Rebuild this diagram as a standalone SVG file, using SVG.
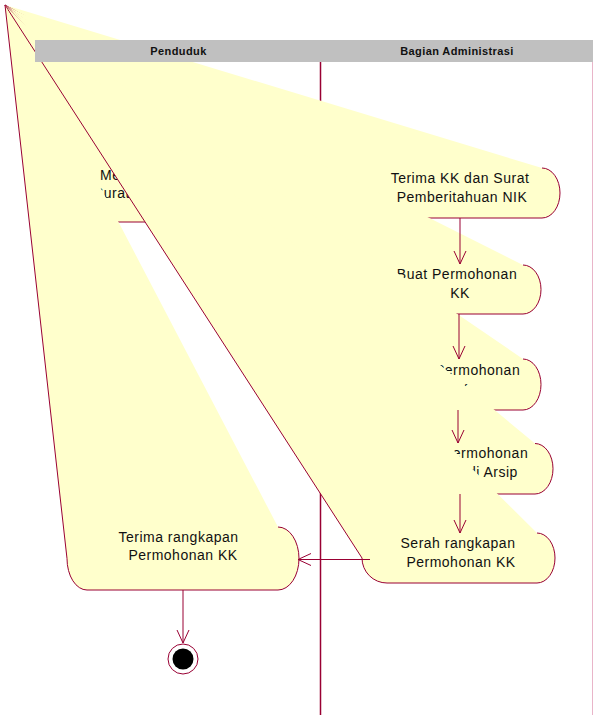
<svg xmlns="http://www.w3.org/2000/svg" width="593" height="715" viewBox="0 0 593 715">
  <style>
    .lane { stroke: #990033; stroke-width: 1.5; fill: none; }
    .border { stroke: #e9b5c9; stroke-width: 1; fill: none; }
    .body { fill: #ffffcc; stroke: none; }
    .edge { fill: none; stroke: #990033; stroke-width: 1; }
    .label { font-family: "Liberation Sans", Arial, sans-serif; font-size: 14px; fill: #111; letter-spacing: 0.5px; }
    .head { font-family: "Liberation Sans", Arial, sans-serif; font-size: 11px; font-weight: bold; fill: #111; letter-spacing: 0.4px; text-anchor: middle; }
    .flow { fill: none; stroke: #990033; stroke-width: 1; }
  </style>
  <defs>
    <marker id="open" viewBox="0 0 14 14" refX="13" refY="7" markerWidth="14" markerHeight="14" markerUnits="userSpaceOnUse" orient="auto">
      <path d="M0,1 L13,7 L0,13" fill="none" stroke="#990033" stroke-width="1"/>
    </marker>
  </defs>

  <!-- swimlane lines (drawn under the activities) -->
  <g id="lanes">
    <line class="lane" x1="320.5" y1="62" x2="320.5" y2="715"/>
    <line class="border" x1="592.5" y1="62" x2="592.5" y2="715"/>
  </g>

  <!-- Penduduk: first activity -->
  <g id="act-penduduk-1">
    <path class="body" d="M5,5 L278,163 A20,29.5 0 0 1 278,222 L87,222 A20,29.5 0 0 1 67,192.5 Z"/>
    <path class="edge" d="M278,163 A20,29.5 0 0 1 278,222 L87,222 A20,29.5 0 0 1 67,192.5 L5,5"/>
    <text class="label" x="100" y="180">Menyerahkan</text>
    <text class="label" x="94" y="198">Surat</text>
  </g>

  <!-- Bagian Administrasi activities -->
  <g id="act-terima-kk">
    <path class="body" d="M5,5 L542,168 A18,25 0 0 1 542,218 L361,218 A20,25 0 0 1 341,193 Z"/>
    <path class="edge" d="M542,168 A18,25 0 0 1 542,218 L361,218 A20,25 0 0 1 341,193 L5,5"/>
    <text class="label" x="460" y="183" text-anchor="middle">Terima KK dan Surat</text>
    <text class="label" x="462" y="202" text-anchor="middle">Pemberitahuan NIK</text>
  </g>

  <g id="act-buat-permohonan">
    <path class="body" d="M5,5 L523,265 A18,24.5 0 0 1 523,314 L404,314 A20,24.5 0 0 1 384,289.5 Z"/>
    <path class="edge" d="M523,265 A18,24.5 0 0 1 523,314 L404,314 A20,24.5 0 0 1 384,289.5 L5,5"/>
    <text class="label" x="457" y="279" text-anchor="middle">Buat Permohonan</text>
    <text class="label" x="460" y="298" text-anchor="middle">KK</text>
  </g>

  <g id="act-permohonan-kk">
    <path class="body" d="M5,5 L523,359 A18,25.5 0 0 1 523,410 L447,410 A20,25.5 0 0 1 427,384.5 Z"/>
    <path class="edge" d="M523,359 A18,25.5 0 0 1 523,410 L447,410 A20,25.5 0 0 1 427,384.5 L5,5"/>
    <text class="label" x="435" y="374.5">Permohonan</text>
    <text class="label" x="449" y="393.5">KK</text>
  </g>

  <g id="act-arsip">
    <path class="body" d="M5,5 L535,443.5 A18,25.25 0 0 1 535,494 L467,494 A20,25.25 0 0 1 447,468.75 Z"/>
    <path class="edge" d="M535,443.5 A18,25.25 0 0 1 535,494 L467,494 A20,25.25 0 0 1 447,468.75 L5,5"/>
    <text class="label" x="443" y="458">Permohonan</text>
    <text class="label" x="468" y="477">di Arsip</text>
  </g>

  <g id="act-serah">
    <path class="body" d="M5,5 L537,533 A18,25 0 0 1 537,583 L387,583 A25,25 0 0 1 362,558 Z"/>
    <path class="edge" d="M537,533 A18,25 0 0 1 537,583 L387,583 A25,25 0 0 1 362,558 L5,5"/>
    <text class="label" x="458" y="548" text-anchor="middle">Serah rangkapan</text>
    <text class="label" x="461" y="567" text-anchor="middle">Permohonan KK</text>
  </g>

  <!-- Penduduk: receives the copy -->
  <g id="act-terima-rangkapan">
    <path class="body" d="M5,5 L278,527 A21,31.5 0 0 1 278,590 L87,590 A20,31.5 0 0 1 67,558.5 Z"/>
    <path class="edge" d="M278,527 A21,31.5 0 0 1 278,590 L87,590 A20,31.5 0 0 1 67,558.5 L5,5"/>
    <text class="label" x="178.5" y="542" text-anchor="middle">Terima rangkapan</text>
    <text class="label" x="183" y="560" text-anchor="middle">Permohonan KK</text>
  </g>

  <!-- swimlane header -->
  <g id="header">
    <rect x="35" y="40" width="558" height="22" fill="#c0c0c0"/>
    <text class="head" x="178.5" y="55">Penduduk</text>
    <text class="head" x="457" y="55">Bagian Administrasi</text>
  </g>

  <!-- transitions -->
  <g id="connectors">
    <path class="flow" d="M460,218 L460,264" marker-end="url(#open)"/>
    <path class="flow" d="M459,314 L459,359" marker-end="url(#open)"/>
    <path class="flow" d="M458,410 L458,443" marker-end="url(#open)"/>
    <path class="flow" d="M460,494 L460,533" marker-end="url(#open)"/>
    <path class="flow" d="M370,559.5 L298,559.5" marker-end="url(#open)"/>
    <path class="flow" d="M183,590 L183,643" marker-end="url(#open)"/>
  </g>

  <!-- final state -->
  <g id="final">
    <circle cx="183" cy="659" r="15" fill="#fff" stroke="#990033" stroke-width="1"/>
    <circle cx="183" cy="659" r="10.5" fill="#000"/>
  </g>
</svg>
